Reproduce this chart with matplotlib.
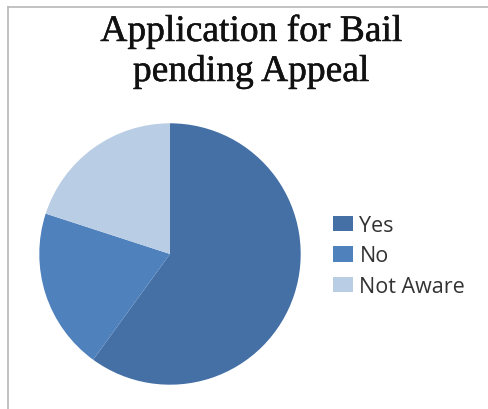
import matplotlib.pyplot as plt
import matplotlib.patheffects as pe
from matplotlib.lines import Line2D
from matplotlib.patches import Patch

# Slice data
labels = ['Yes', 'No', 'Not Aware']
shares = [60, 20, 20]
colors = ['#4470A6', '#4F81BD', '#B9CDE5']

W, H = 488, 410
fig = plt.figure(figsize=(W / 100, H / 100), dpi=100)
fig.patch.set_facecolor('white')

# thin grey frame along the top and left edges
fig.add_artist(Line2D([8 / W, 1.0], [1 - 8 / H, 1 - 8 / H], color='#b8b8b8', lw=1.2))
fig.add_artist(Line2D([8 / W, 8 / W], [0.0, 1 - 8 / H], color='#b8b8b8', lw=1.2))

ax = fig.add_axes([38 / W, 23 / H, 264 / W, 264 / H])
ax.pie(shares, colors=colors, startangle=90, counterclock=False,
       radius=1.0, wedgeprops=dict(linewidth=0))
ax.set_xlim(-1.01, 1.01)
ax.set_ylim(-1.01, 1.01)
ax.set_aspect('auto')
ax.axis('off')

# two-line title, each line placed on its baseline
title_font = dict(ha='center', va='baseline', fontsize=27,
                  family='Liberation Serif', color='#111111',
                  path_effects=[pe.withStroke(linewidth=0.35, foreground='#111111')])
fig.text(251 / W, 1 - 42 / H, 'Application for Bail', **title_font)
fig.text(251 / W, 1 - 82 / H, 'pending Appeal', **title_font)

handles = [Patch(facecolor=c, edgecolor='none') for c in colors]
leg = fig.legend(handles, labels, loc='center left',
                 bbox_to_anchor=(333 / W, 1 - 257 / H),
                 frameon=False, prop={'family': 'Open Sans', 'size': 15.5},
                 handlelength=0.95, handleheight=0.72, handletextpad=0.28,
                 labelspacing=0.45, borderpad=0, borderaxespad=0)
for t in leg.get_texts():
    t.set_color('#333333')

fig.savefig('out.png', dpi=100)
